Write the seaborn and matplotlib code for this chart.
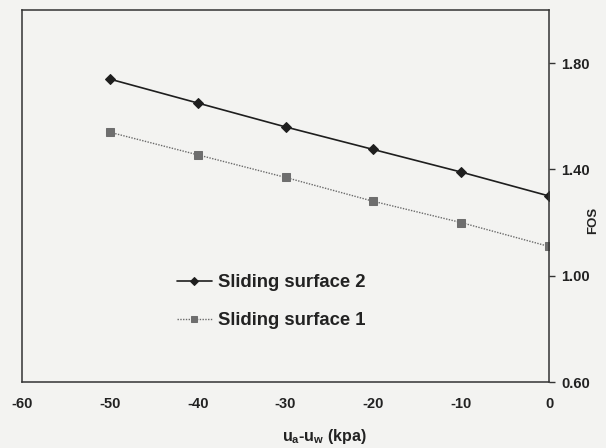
import pandas as pd
import seaborn as sns
import matplotlib.pyplot as plt

# values
suction = [-50, -40, -30, -20, -10, 0]
fos_surface2 = [1.74, 1.65, 1.56, 1.475, 1.39, 1.30]
fos_surface1 = [1.54, 1.455, 1.37, 1.28, 1.20, 1.11]
x_ticks = [-60, -50, -40, -30, -20, -10, 0]
y_ticks = [0.60, 1.00, 1.40, 1.80]

data = pd.DataFrame({
    'suction': suction * 2,
    'FOS': fos_surface2 + fos_surface1,
    'surface': ['Sliding surface 2'] * 6 + ['Sliding surface 1'] * 6,
})

sns.set_style('white')
plt.rcParams['font.family'] = ['Liberation Sans', 'DejaVu Sans']
plt.rcParams['font.weight'] = 'bold'
plt.rcParams['axes.unicode_minus'] = False

bg = '#f3f3f1'
fig = plt.figure(figsize=(6.06, 4.48), dpi=100, facecolor=bg)
ax = fig.add_axes([0.0363, 0.1473, 0.8697, 0.8304])
ax.set_facecolor(bg)

sns.lineplot(x='suction', y='FOS', data=data[data['surface'] == 'Sliding surface 2'],
             color='#1e1e1e', linewidth=1.2, marker='D', markersize=5.5,
             markeredgecolor='#1e1e1e', label='Sliding surface 2', ax=ax)
sns.lineplot(x='suction', y='FOS', data=data[data['surface'] == 'Sliding surface 1'],
             color='#6a6a6a', linewidth=1.0, linestyle=(0, (1, 1)), marker='s',
             markersize=6, markerfacecolor='#6e6e6e', markeredgecolor='#6e6e6e',
             label='Sliding surface 1', ax=ax)

ax.set_xlim(-60, 0)
ax.set_ylim(0.6, 2.0)
ax.set_xticks(x_ticks)
ax.set_yticks(y_ticks)
ax.set_yticklabels([f'{v:.2f}' for v in y_ticks])

for side in ['top', 'bottom', 'left', 'right']:
    ax.spines[side].set_color('#333333')
    ax.spines[side].set_linewidth(1.1)

ax.yaxis.tick_right()
ax.tick_params(axis='x', direction='inout', length=6, width=1, color='#333333',
               labelsize=10.5, pad=8, labelcolor='#222222')
ax.tick_params(axis='y', direction='out', length=4, width=1, color='#333333',
               labelsize=10.5, pad=5, labelcolor='#222222', left=False, right=True)

ax.set_xlabel('u$_\\mathregular{a}$-u$_\\mathregular{w}$ (kpa)', fontsize=11.5,
              fontweight='bold', color='#222222')
ax.xaxis.set_label_coords(0.573, -0.122)
ax.set_ylabel('FOS', fontsize=9.5, fontweight='bold', color='#222222')
ax.yaxis.set_label_position('right')
ax.yaxis.set_label_coords(1.0845, 0.435)
ax.yaxis.label.set_va('center')

ax.legend(loc='center left', bbox_to_anchor=(0.294, 0.216), frameon=False,
          fontsize=13.3, handlelength=1.9, handletextpad=0.3, labelspacing=1.15,
          borderpad=0, borderaxespad=0, markerscale=0.8)
for t in ax.get_legend().get_texts():
    t.set_color('#222222')

fig.savefig('out.png', dpi=100, facecolor=bg)
